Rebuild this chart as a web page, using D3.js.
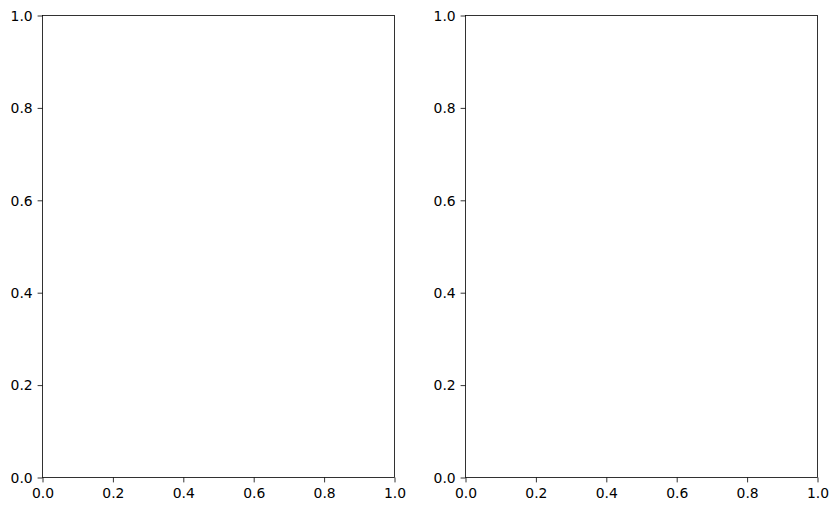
<!DOCTYPE html>
<html><head><meta charset="utf-8">
<script src="https://cdn.jsdelivr.net/npm/d3@7"></script>
<style>body{margin:0;background:#fff}svg{display:block}</style>
</head><body>
<script>
const xTicks = [0.0, 0.2, 0.4, 0.6, 0.8, 1.0];
const yTicks = [0.0, 0.2, 0.4, 0.6, 0.8, 1.0];
const xDomain = [0, 1];
const yDomain = [0, 1];
const panels = ["left", "right"];

(function () {
const W = 837, H = 511;
const svg = d3.select("body").append("svg").attr("width", W).attr("height", H);
const axLeft = [42.5, 465.5];
const axW = 352, axTop = 15.5, axBottom = 477.5;
const fs = 13.9, tickLen = 4.9, pad = 4.9;
const fmt = d3.format(".1f");

panels.forEach((p, i) => {
  const x = d3.scaleLinear().domain(xDomain).range([axLeft[i], axLeft[i] + axW]);
  const y = d3.scaleLinear().domain(yDomain).range([axBottom, axTop]);
  const g = svg.append("g");
  const xa = g.append("g").attr("transform", `translate(0,${axBottom})`)
    .call(d3.axisBottom(x).tickValues(xTicks).tickFormat(fmt).tickSize(tickLen).tickPadding(pad).tickSizeOuter(0));
  const ya = g.append("g").attr("transform", `translate(${axLeft[i]},0)`)
    .call(d3.axisLeft(y).tickValues(yTicks).tickFormat(fmt).tickSize(tickLen).tickPadding(pad).tickSizeOuter(0));
  [xa, ya].forEach(a => {
    a.select(".domain").remove();
    a.selectAll("line").attr("stroke", "#000").attr("stroke-width", 0.8);
    a.selectAll("text").attr("font-family", "DejaVu Sans").attr("font-size", fs).attr("fill", "#000");
  });
  ya.selectAll("text").attr("dy", "0.35em");
  xa.selectAll("text").attr("dy", "0.76em");
  g.append("rect").attr("x", axLeft[i]).attr("y", axTop).attr("width", axW).attr("height", axBottom - axTop)
    .attr("fill", "none").attr("stroke", "#000").attr("stroke-width", 0.8);
});
})();
</script>
</body></html>
